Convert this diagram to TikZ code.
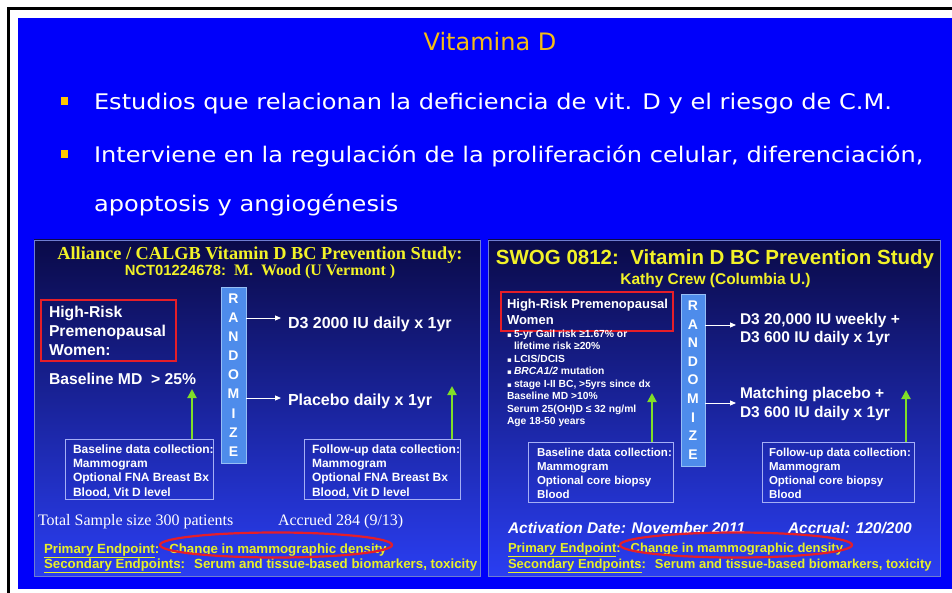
\documentclass[tikz,border=0pt]{standalone}
\usepackage{fontspec}
\setmainfont{Liberation Serif}
\setsansfont{Liberation Sans}
\newfontfamily\slidefont{DejaVu Sans}
\newfontfamily\slidewide[FakeStretch=1.12]{DejaVu Sans}
\newfontfamily\dvfont{DejaVu Sans}
\usetikzlibrary{arrows.meta,shapes.geometric}
\definecolor{slideblue}{RGB}{0,0,250}
\definecolor{titleorange}{RGB}{245,188,20}
\definecolor{bulletyellow}{RGB}{255,198,0}
\definecolor{paneltop}{RGB}{10,10,72}
\definecolor{panelmid}{RGB}{20,30,205}
\definecolor{panelbot}{RGB}{42,62,242}
\definecolor{panelborder}{RGB}{110,125,210}
\definecolor{randfill}{RGB}{78,140,235}
\definecolor{randborder}{RGB}{150,190,245}
\definecolor{boxborder}{RGB}{165,175,245}
\definecolor{ttlyellow}{RGB}{242,242,40}
\definecolor{endyellow}{RGB}{232,240,40}
\definecolor{hired}{RGB}{230,30,40}
\definecolor{arrgreen}{RGB}{128,222,40}
\newcommand\fsz[2]{\fontsize{#1}{#2}\selectfont}
\newcommand\sqbul{\makebox[7pt][l]{\dvfont\fsz{7}{8}▪}}
\begin{document}
\begin{tikzpicture}[x=1pt,y=-1pt,
  every node/.style={inner sep=0pt,outer sep=0pt},
  wtxt/.style={anchor=base west,text=white},
  ytxt/.style={anchor=base west,text=endyellow},
  ttl/.style={anchor=base,text=ttlyellow},
  redbox/.style={draw=hired,line width=2pt,anchor=north west},
  databox/.style={draw=boxborder,line width=0.9pt,anchor=north west},
  randbar/.style={draw=randborder,line width=0.8pt,fill=randfill,anchor=north west,
     text=white,align=center,font=\sffamily\bfseries\fsz{14}{19.1}},
  warrow/.style={draw=white,line width=1pt,-{Triangle[length=6pt,width=5pt]}},
  garrow/.style={draw=arrgreen,line width=2pt,-{Triangle[length=9pt,width=9pt]}},
  redell/.style={draw=hired,line width=2.2pt,ellipse},
  sansb/.style={font=\sffamily\bfseries\fsz{#1}{#1}}
]
\useasboundingbox (0,0) rectangle (952,593);
\fill[white] (0,0) rectangle (952,593);
\fill[slideblue] (18,18) rectangle (952,589);
\draw[black,line width=3pt] (8,593) -- (8,9) -- (952,9);

% slide title and bullets
\node[anchor=base,text=titleorange,font=\slidefont\fsz{24}{30}] (title) at (490,51) {Vitamina D};
\node[fill=bulletyellow,minimum width=7,minimum height=8,anchor=north west] (bl1) at (61,97) {};
\node[fill=bulletyellow,minimum width=7,minimum height=8,anchor=north west] (bl2) at (61,150) {};
\node[wtxt,font=\slidewide\fsz{21.5}{26}] (t1) at (94,110) {Estudios que relacionan la deficiencia de vit. D y el riesgo de C.M.};
\node[wtxt,font=\slidewide\fsz{21.5}{26}] (t2) at (94,163) {Interviene en la regulación de la proliferación celular,\ diferenciación,};
\node[wtxt,font=\slidewide\fsz{21.5}{26}] (t3) at (94,212) {apoptosis y angiogénesis};

% ================= left panel
\shade[top color=paneltop,middle color=panelmid,bottom color=panelbot] (34,240) rectangle (480,576);
\draw[panelborder,line width=0.8pt] (34,240) rectangle (480,576);
\node[ttl,font=\rmfamily\bfseries\fsz{18.3}{20}] (lt1) at (260,260) {Alliance / CALGB Vitamin D BC Prevention Study:};
\node[ttl,font=\rmfamily\bfseries\fsz{16}{18}] (lt2) at (260,276) {{\sffamily\fsz{14.8}{18}NCT01224678:}\ \ M.\ \ Wood (U Vermont )};

\node[redbox,minimum width=135,minimum height=61] (hrA) at (41,300) {};
\node[anchor=north west,align=left,text=white,font=\sffamily\bfseries\fsz{15.7}{19}] (hrAt) at (49,306) {High-Risk\\Premenopausal\\Women:};
\node[wtxt,sansb=15.7] (bmdA) at (49,384) {Baseline MD\ \ > 25\%};

\node[randbar,minimum width=25,minimum height=176] (randA) at (221,287) {R\\A\\N\\D\\O\\M\\I\\Z\\E};
\coordinate (tA1) at (281,318);
\coordinate (tA2) at (281,398);
\draw[warrow] (randA.east |- tA1) -- (tA1);
\draw[warrow] (randA.east |- tA2) -- (tA2);
\node[wtxt,sansb=16] (d3A) at (288,328) {D3 2000 IU daily x 1yr};
\node[wtxt,sansb=16] (plA) at (288,405) {Placebo daily x 1yr};

\node[databox,minimum width=148,minimum height=60] (baseA) at (65,439) {};
\node[anchor=north west,align=left,text=white,font=\sffamily\bfseries\fsz{12}{14.4}] (baseAt) at (73,444.5) {Baseline data collection:\\Mammogram\\Optional FNA Breast Bx\\Blood, Vit D level};
\node[databox,minimum width=156,minimum height=60] (folA) at (304,439) {};
\node[anchor=north west,align=left,text=white,font=\sffamily\bfseries\fsz{12}{14.4}] (folAt) at (312,444.5) {Follow-up data collection:\\Mammogram\\Optional FNA Breast Bx\\Blood, Vit D level};
\coordinate (gA1) at (192,389);
\coordinate (gA2) at (452,386);
\draw[garrow] (baseA.north -| gA1) -- (gA1);
\draw[garrow] (folA.north -| gA2) -- (gA2);

\node[wtxt,font=\rmfamily\fsz{16}{19}] (totA) at (38,525) {Total Sample size 300 patients};
\node[wtxt,font=\rmfamily\fsz{16}{19}] (accA) at (278,525) {Accrued 284 (9/13)};
\node[ytxt,sansb=13.3] (prA) at (44,553) {\underline{Primary Endpoint}:\hspace{10pt}Change in mammographic density};
\node[ytxt,sansb=13.3] (seA) at (44,568) {\underline{Secondary Endpoints}:\hspace{9pt}Serum and tissue-based biomarkers, toxicity};
\node[redell,minimum width=232,minimum height=25] (ellA) at (276,545) {};

% ================= right panel
\shade[top color=paneltop,middle color=panelmid,bottom color=panelbot] (488,240) rectangle (940,576);
\draw[panelborder,line width=0.8pt] (488,240) rectangle (940,576);
\node[ttl,sansb=20.5] (rt1) at (715,265) {SWOG 0812:\ \ Vitamin D BC Prevention Study};
\node[ttl,sansb=15.5] (rt2) at (715.5,285) {Kathy Crew (Columbia U.)};

\node[redbox,minimum width=172,minimum height=39] (hrB) at (501,292) {};
\node[anchor=north west,align=left,text=white,font=\sffamily\bfseries\fsz{13}{16}] (hrBt) at (507,299.5) {High-Risk Premenopausal\\Women};
\node[anchor=north west,align=left,text=white,font=\sffamily\bfseries\fsz{10.3}{12.5}] (critB) at (507,329.7) {\sqbul 5-yr Gail risk ≥1.67\% or\\\hspace*{7pt}lifetime risk ≥20\%\\\sqbul LCIS/DCIS\\\sqbul \textit{BRCA1/2} mutation\\\sqbul stage I-II BC, >5yrs since dx\\Baseline MD >10\%\\Serum 25(OH)D ≤ 32 ng/ml\\Age 18-50 years};

\node[randbar,minimum width=24,minimum height=172,font=\sffamily\bfseries\fsz{14}{18.6}] (randB) at (681,294) {R\\A\\N\\D\\O\\M\\I\\Z\\E};
\coordinate (tB1) at (736,325);
\coordinate (tB2) at (736,403);
\draw[warrow] (randB.east |- tB1) -- (tB1);
\draw[warrow] (randB.east |- tB2) -- (tB2);
\node[anchor=north west,align=left,text=white,font=\sffamily\bfseries\fsz{15.5}{18}] (d3B) at (740,313) {D3 20,000 IU weekly +\\D3 600 IU daily x 1yr};
\node[anchor=north west,align=left,text=white,font=\sffamily\bfseries\fsz{15.5}{19}] (plB) at (740,387) {Matching placebo +\\D3 600 IU daily x 1yr};

\node[databox,minimum width=145,minimum height=60] (baseB) at (528,442) {};
\node[anchor=north west,align=left,text=white,font=\sffamily\bfseries\fsz{11.5}{14}] (baseBt) at (537,448.5) {Baseline data collection:\\Mammogram\\Optional core biopsy\\Blood};
\node[databox,minimum width=152,minimum height=60] (folB) at (762,442) {};
\node[anchor=north west,align=left,text=white,font=\sffamily\bfseries\fsz{11.5}{14}] (folBt) at (769,448.5) {Follow-up data collection:\\Mammogram\\Optional core biopsy\\Blood};
\coordinate (gB1) at (652,393);
\coordinate (gB2) at (906,390);
\draw[garrow] (baseB.north -| gB1) -- (gB1);
\draw[garrow] (folB.north -| gB2) -- (gB2);

\node[wtxt,font=\sffamily\bfseries\itshape\fsz{15.5}{18}] (actB) at (508,533) {Activation Date: November 2011};
\node[wtxt,font=\sffamily\bfseries\itshape\fsz{15.5}{18}] (accB) at (788,533) {Accrual: 120/200};
\node[ytxt,sansb=13] (prB) at (508,552) {\underline{Primary Endpoint}:\hspace{10pt}Change in mammographic density};
\node[ytxt,sansb=13] (seB) at (508,568) {\underline{Secondary Endpoints}:\hspace{9pt}Serum and tissue-based biomarkers, toxicity};
\node[redell,minimum width=232,minimum height=25] (ellB) at (736,545) {};
\end{tikzpicture}
\end{document}
